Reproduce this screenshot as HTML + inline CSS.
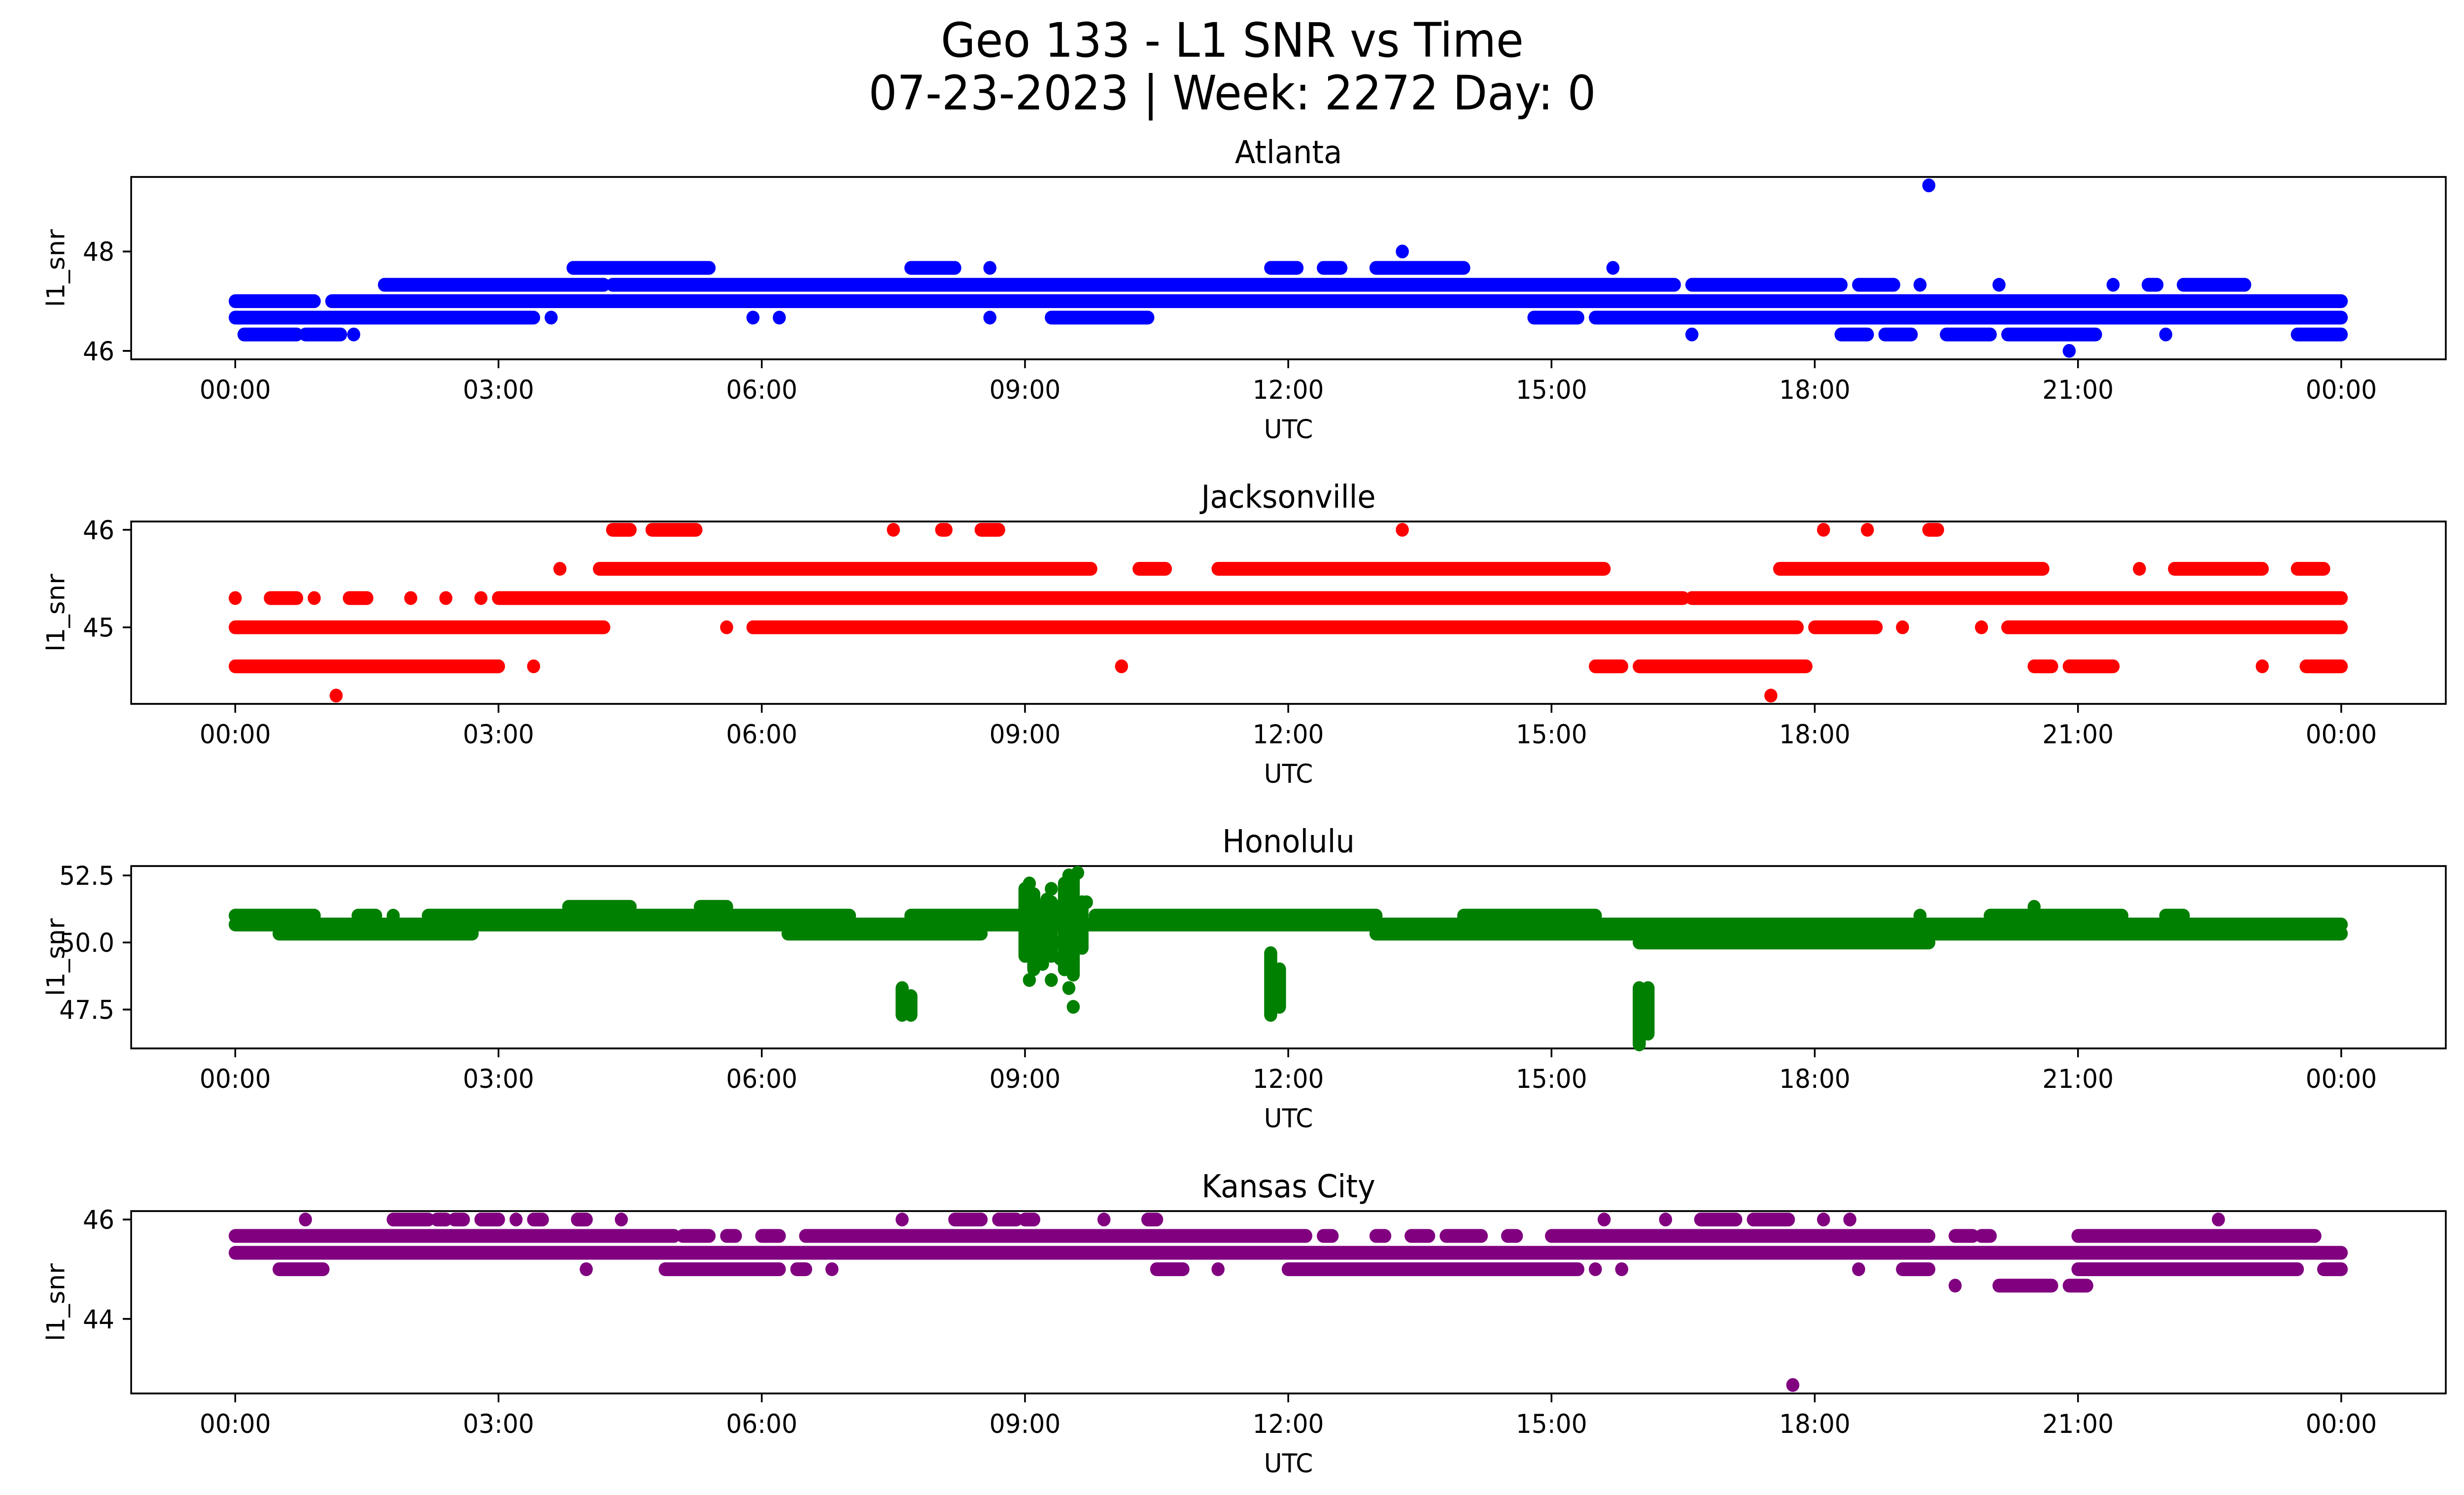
<!DOCTYPE html>
<html><head><meta charset="utf-8"><style>
html,body{margin:0;padding:0;background:#fff;width:100%;height:100%;overflow:hidden}
svg{display:block;width:100vw;height:100vh;font-family:"DejaVu Sans","Liberation Sans",sans-serif}
</style></head><body>
<svg id="fig" viewBox="0 0 5279 3033" preserveAspectRatio="none" overflow="hidden" xmlns="http://www.w3.org/2000/svg">
<rect width="5279" height="3033" fill="#fff"/>
<text x="2640" y="115" font-size="96" text-anchor="middle">Geo 133 - L1 SNR vs Time</text>
<text x="2640" y="222" font-size="96" text-anchor="middle">07-23-2023 | Week: 2272 Day: 0</text>
</svg>
<script>
// ---- data: runs of quantized samples [level, startHour, endHour] ----
const xTickHours = [0,3,6,9,12,15,18,21,24];
const xTickLabels = ["00:00","03:00","06:00","09:00","12:00","15:00","18:00","21:00","00:00"];

const atlantaTicks = [46,48];
const atlantaRuns = [
[46.0,20.9,20.9],
[46.33,0.1,0.7],[46.33,0.8,1.2],[46.33,1.35,1.35],[46.33,16.6,16.6],[46.33,18.3,18.6],[46.33,18.8,19.1],[46.33,19.5,20.0],[46.33,20.2,21.2],[46.33,22.0,22.0],[46.33,23.5,24],
[46.67,0,3.4],[46.67,3.6,3.6],[46.67,5.9,5.9],[46.67,6.2,6.2],[46.67,8.6,8.6],[46.67,9.3,10.4],[46.67,14.8,15.3],[46.67,15.5,24],
[47.0,0,0.9],[47.0,1.1,24],
[47.33,1.7,4.2],[47.33,4.3,16.4],[47.33,16.6,18.3],[47.33,18.5,18.9],[47.33,19.2,19.2],[47.33,20.1,20.1],[47.33,21.4,21.4],[47.33,21.8,21.9],[47.33,22.2,22.9],
[47.67,3.85,5.4],[47.67,7.7,8.2],[47.67,8.6,8.6],[47.67,11.8,12.1],[47.67,12.4,12.6],[47.67,13.0,14.0],[47.67,15.7,15.7],
[48.0,13.3,13.3],[49.33,19.3,19.3]
];

const jaxTicks = [45,46];
const jaxRuns = [
[44.3,1.15,1.15],[44.3,17.5,17.5],
[44.6,0,3.0],[44.6,3.4,3.4],[44.6,10.1,10.1],[44.6,15.5,15.8],[44.6,16.0,17.9],[44.6,20.5,20.7],[44.6,20.9,21.4],[44.6,23.1,23.1],[44.6,23.6,24],
[45.0,0,4.2],[45.0,5.6,5.6],[45.0,5.9,17.8],[45.0,18.0,18.7],[45.0,19.0,19.0],[45.0,19.9,19.9],[45.0,20.2,24],
[45.3,0,0],[45.3,0.4,0.7],[45.3,0.9,0.9],[45.3,1.3,1.5],[45.3,2.0,2.0],[45.3,2.4,2.4],[45.3,2.8,2.8],[45.3,3.0,16.5],[45.3,16.6,24],
[45.6,3.7,3.7],[45.6,4.15,9.75],[45.6,10.3,10.6],[45.6,11.2,15.6],[45.6,17.6,20.6],[45.6,21.7,21.7],[45.6,22.1,23.1],[45.6,23.5,23.8],
[46.0,4.3,4.5],[46.0,4.75,5.25],[46.0,7.5,7.5],[46.0,8.05,8.1],[46.0,8.5,8.7],[46.0,13.3,13.3],[46.0,18.1,18.1],[46.0,18.6,18.6],[46.0,19.3,19.4]
];

const honTicks = [47.5,50.0,52.5];
const honTickLabels = ["47.5","50.0","52.5"];
const honRuns = [
[51.0,0,0.9],[51.0,1.4,1.6],[51.0,1.8,1.8],[51.0,2.2,7.0],[51.0,7.7,9.0],[51.0,9.8,13.0],[51.0,14.0,15.5],[51.0,19.2,19.2],[51.0,20.0,21.5],[51.0,22.0,22.2],
[50.67,0,24],
[50.33,0.5,2.7],[50.33,6.3,8.5],[50.33,13.0,24],
[50.0,16.0,19.3],
[51.33,3.8,4.5],[51.33,5.3,5.6],[51.33,9.0,9.6],[51.33,20.5,20.5]
];
// vertical clusters [hour, low, high]
const honDips = [[7.6,47.3,48.3],[7.7,47.3,48.0],[11.8,47.3,49.6],[11.9,47.6,49.0],[16.0,46.2,48.3],[16.1,46.6,48.3],
[9.0,49.5,52.0],[9.1,49.0,51.8],[9.2,49.6,51.2],[9.3,49.5,51.5],[9.45,49.0,52.2],[9.55,48.8,52.4],[9.65,49.8,51.5]];
// scattered points around 09:00-09:40
const honSpikeT = [9.0,9.0,9.05,9.1,9.1,9.15,9.2,9.25,9.3,9.3,9.35,9.4,9.45,9.5,9.5,9.55,9.6,9.6,9.65,9.7,9.45,9.05,9.2,9.4,9.55,9.35];
const honSpikeV = [51.5,50.2,52.2,51.8,49.8,50.5,49.2,51.6,52.0,48.6,50.0,49.4,51.9,52.5,48.3,47.6,52.6,50.9,49.8,51.5,49.0,48.6,50.8,51.2,50.3,51.1];

const kcTicks = [44,46];
const kcRuns = [
[45.67,0,5.0],[45.67,5.1,5.4],[45.67,5.6,5.7],[45.67,6.0,6.2],[45.67,6.5,12.2],[45.67,12.4,12.5],[45.67,13.0,13.1],[45.67,13.4,13.6],[45.67,13.8,14.2],[45.67,14.5,14.6],[45.67,15.0,19.3],[45.67,19.6,19.8],[45.67,19.9,20.0],[45.67,21.0,23.7],
[45.33,0,24],
[45.0,0.5,1.0],[45.0,4.0,4.0],[45.0,4.9,6.2],[45.0,6.4,6.5],[45.0,6.8,6.8],[45.0,10.5,10.8],[45.0,11.2,11.2],[45.0,12.0,15.3],[45.0,15.5,15.5],[45.0,15.8,15.8],[45.0,18.5,18.5],[45.0,19.0,19.3],[45.0,21.0,23.5],[45.0,23.8,24],
[44.67,19.6,19.6],[44.67,20.1,20.7],[44.67,20.9,21.1],
[46.0,0.8,0.8],[46.0,1.8,2.2],[46.0,2.3,2.4],[46.0,2.5,2.6],[46.0,2.8,3.0],[46.0,3.2,3.2],[46.0,3.4,3.5],[46.0,3.9,4.0],[46.0,4.4,4.4],[46.0,7.6,7.6],[46.0,8.2,8.5],[46.0,8.7,8.9],[46.0,9.0,9.1],[46.0,9.9,9.9],[46.0,10.4,10.5],[46.0,15.6,15.6],[46.0,16.3,16.3],[46.0,16.7,17.1],[46.0,17.3,17.7],[46.0,18.1,18.1],[46.0,18.4,18.4],[46.0,22.6,22.6],
[42.67,17.75,17.75]
];

const NS="http://www.w3.org/2000/svg";
const svg=document.getElementById('fig');
const L=281,R=5240,H=370,X0=504,PXH=188,MS=28;
function xs(h){return X0+h*PXH;}
function mk(tag,attrs,parent){const e=document.createElementNS(NS,tag);for(const k in attrs)e.setAttribute(k,attrs[k]);(parent||svg).appendChild(e);return e;}

function panel(name,title,top,ymin,ymax,ticks,tickLabels,runs,color){
  const g=mk('g',{});
  
  
  const ys=v=>top+(ymax-v)/(ymax-ymin)*H;
  const bot=top+H;
  for(const r of runs){
    if(r[1]===r[2]){
      const c=mk('circle',{cx:xs(r[1]),cy:ys(r[0]),r:MS/2,fill:color},g);
      
      
    }else{
      const l=mk('line',{x1:xs(r[1]),x2:xs(r[2]),y1:ys(r[0]),y2:ys(r[0]),stroke:color,'stroke-width':MS,'stroke-linecap':'round'},g);
      
      
    }
  }
  const frame=mk('rect',{x:L,y:top,width:R-L,height:H,fill:'none',stroke:'#000','stroke-width':3.7},g);
  
  
  xTickHours.forEach((h,i)=>{
    mk('line',{x1:xs(h),x2:xs(h),y1:bot,y2:bot+18,stroke:'#000','stroke-width':3.7},g);
    const t=mk('text',{x:xs(h),y:bot+80,'font-size':53,'text-anchor':'middle'},g);
    t.textContent=xTickLabels[i];
    
    
  });
  ticks.forEach((v,i)=>{
    mk('line',{x1:L,x2:L-18,y1:ys(v),y2:ys(v),stroke:'#000','stroke-width':3.7},g);
    const t=mk('text',{x:L-36,y:ys(v)+19,'font-size':53,'text-anchor':'end'},g);
    t.textContent=tickLabels?tickLabels[i]:String(v);
    
    
  });
  const xl=mk('text',{x:(L+R)/2,y:bot+160,'font-size':53,'text-anchor':'middle'},g);
  xl.textContent='UTC';
  
  
  const yl=mk('text',{x:0,y:0,'font-size':53,'text-anchor':'middle',transform:`translate(138,${top+H/2}) rotate(-90)`},g);
  yl.textContent='l1_snr';
  
  
  const tt=mk('text',{x:(L+R)/2,y:top-28,'font-size':64,'text-anchor':'middle'},g);
  tt.textContent=title;
  
  
  return {g,ys};
}

panel('atlanta','Atlanta',359,45.83,49.5,atlantaTicks,null,atlantaRuns,'#0000ff');
panel('jacksonville','Jacksonville',1058,44.215,46.085,jaxTicks,null,jaxRuns,'#ff0000');
const hon=panel('honolulu','Honolulu',1757,46.05,52.85,honTicks,honTickLabels,honRuns,'#008000');
honDips.forEach(d=>{
  const l=mk('line',{x1:xs(d[0]),x2:xs(d[0]),y1:hon.ys(d[1]),y2:hon.ys(d[2]),stroke:'#008000','stroke-width':MS,'stroke-linecap':'round'},hon.g);
  
  
});
honSpikeT.forEach((t,i)=>{
  const c=mk('circle',{cx:xs(t),cy:hon.ys(honSpikeV[i]),r:MS/2,fill:'#008000'},hon.g);
  
  
});
panel('kansas-city','Kansas City',2457,42.5,46.17,kcTicks,null,kcRuns,'#800080');
</script>
</body></html>
